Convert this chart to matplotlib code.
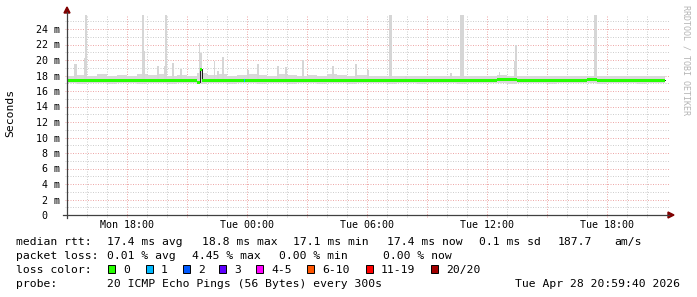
"""SmokePing style latency graph (RRDtool look) redrawn with matplotlib."""

import matplotlib

matplotlib.use("Agg")
import matplotlib.pyplot as plt
from matplotlib.lines import Line2D
from matplotlib.patches import Polygon, Rectangle

W, H = 697, 297
PX_PER_MS = 7.75

# hours are counted from Monday 00:00
X_START, X_END = 15.0, 45.0
STEP_H = 1 / 12  # one 300 s sample

MEDIAN_HOURS = [
    15.0, 15.5, 16.0, 16.5, 17.0, 17.5, 18.0, 18.5, 19.0, 19.5, 20.0, 20.5, 21.0,
    21.5, 21.67, 21.75, 22.0, 22.5, 23.0, 23.5, 24.0, 24.5, 25.0, 25.5, 26.0, 26.5,
    27.0, 27.5, 28.0, 28.5, 29.0, 29.5, 30.0, 30.5, 31.0, 31.5, 32.0, 32.5, 33.0,
    33.5, 34.0, 34.5, 35.0, 35.5, 36.0, 36.5, 37.0, 37.5, 38.0, 38.5, 39.0, 39.5,
    40.0, 40.5, 41.0, 41.5, 42.0, 42.5, 43.0, 43.5, 44.0, 44.5, 44.92,
]
MEDIAN_MS = [
    17.3, 17.4, 17.4, 17.3, 17.4, 17.4, 17.3, 17.4, 17.4, 17.3, 17.4, 17.4, 17.3,
    17.15, 18.8, 17.3, 17.3, 17.4, 17.4, 17.4, 17.4, 17.3, 17.4, 17.4, 17.4, 17.3,
    17.4, 17.4, 17.4, 17.3, 17.4, 17.4, 17.3, 17.3, 17.3, 17.4, 17.3, 17.3, 17.4,
    17.3, 17.3, 17.4, 17.4, 17.3, 17.4, 17.5, 17.5, 17.4, 17.3, 17.3, 17.4, 17.4,
    17.4, 17.4, 17.5, 17.4, 17.4, 17.4, 17.4, 17.4, 17.4, 17.4, 17.4,
]

SMOKE_HOURS = [
    15.0, 15.5, 16.0, 16.5, 17.0, 17.5, 18.0, 18.5, 19.0, 19.5, 20.0, 20.5, 21.0,
    21.5, 22.0, 22.5, 23.0, 23.5, 24.0, 24.5, 25.0, 25.5, 26.0, 26.5, 27.0, 27.5,
    28.0, 28.5, 29.0, 29.5, 30.0, 30.5, 31.0, 31.5, 32.0, 32.5, 33.0, 33.5, 34.0,
    34.5, 35.0, 35.5, 36.0, 36.5, 37.0, 37.5, 38.0, 38.5, 39.0, 39.5, 40.0, 40.5,
    41.0, 41.5, 42.0, 42.5, 43.0, 43.5, 44.0, 44.5, 44.92,
]
SMOKE_LOW_MS = [
    17.0, 16.9, 17.0, 17.0, 16.9, 17.0, 17.0, 16.9, 17.0, 17.0, 16.9, 17.0, 17.0,
    16.9, 17.0, 17.0, 16.9, 17.0, 17.0, 16.9, 17.0, 17.0, 16.9, 17.0, 17.0, 16.9,
    17.0, 17.0, 16.9, 17.0, 17.0, 17.0, 16.9, 17.0, 17.0, 16.9, 17.0, 17.0, 17.0,
    16.9, 17.0, 17.0, 17.0, 17.0, 16.9, 17.0, 17.0, 17.0, 16.9, 17.0, 17.0, 17.0,
    17.0, 16.9, 17.0, 17.0, 17.0, 16.9, 17.0, 17.0, 17.0,
]
SMOKE_HIGH_MS = [
    18.0, 18.1, 18.0, 18.2, 18.0, 18.1, 18.0, 18.2, 18.1, 18.2, 18.0, 18.1, 18.0,
    18.3, 18.1, 18.2, 18.0, 18.1, 18.2, 18.1, 18.0, 18.2, 18.1, 18.0, 18.1, 18.0,
    18.2, 18.1, 18.0, 18.1, 18.0, 17.9, 18.0, 17.9, 18.0, 17.9, 17.9, 18.0, 17.9,
    18.0, 17.9, 17.9, 18.0, 18.1, 18.0, 17.9, 17.9, 18.0, 17.9, 17.9, 18.0, 17.9,
    18.0, 17.9, 18.0, 17.9, 18.0, 17.9, 18.0, 18.0, 18.0,
]

SPIKE_HOURS = [
    15.33, 15.42, 15.83, 15.92, 18.75, 18.83, 19.5, 19.83, 19.92, 20.25, 20.67,
    21.58, 21.67, 22.33, 22.5, 22.75, 24.0, 24.5, 25.5, 25.92, 26.75, 28.25,
    29.42, 30.0, 31.08, 31.17, 31.92, 34.17, 34.67, 34.75, 36.58, 37.33, 37.42,
    41.33, 41.42, 44.83,
]
SPIKE_TOP_MS = [
    19.5, 19.5, 20.3, 26.0, 26.0, 21.2, 19.2, 19.2, 26.0, 19.6, 18.8,
    22.2, 20.9, 19.9, 18.6, 20.4, 18.7, 19.5, 19.2, 19.1, 20.0, 19.2,
    19.5, 18.7, 26.0, 26.0, 18.0, 18.3, 26.0, 26.0, 18.4, 19.9, 22.0,
    26.0, 26.0, 18.0,
]

LOSS_HOURS = [23.83]
LOSS_MEDIAN_MS = [17.4]

Y_TICKS = [0, 2, 4, 6, 8, 10, 12, 14, 16, 18, 20, 22, 24]
Y_LABELS = ["0  ", "2 m", "4 m", "6 m", "8 m", "10 m", "12 m", "14 m", "16 m",
            "18 m", "20 m", "22 m", "24 m"]
X_TICKS = [18, 24, 30, 36, 42]
X_LABELS = ["Mon 18:00", "Tue 00:00", "Tue 06:00", "Tue 12:00", "Tue 18:00"]

LOSS_NAMES = ["0", "1", "2", "3", "4-5", "6-10", "11-19", "20/20"]
LOSS_COLORS = ["#26ff00", "#00b8ff", "#0059ff", "#5e00ff", "#ff00ff",
               "#ff5500", "#ff0000", "#a10000"]

MONO = "DejaVu Sans Mono"


def fx(x):
    return x / W


def fy(y):
    return 1 - y / H


def main() -> None:
    plt.rcParams["font.family"] = MONO
    fig = plt.figure(figsize=(W / 100, H / 100), dpi=100, facecolor="white")
    ax = fig.add_axes([fx(67), fy(215), 600 / W, 200 / H])
    ax.set_xlim(X_START, X_END)
    ax.set_ylim(0, 200 / PX_PER_MS)
    for s in ax.spines.values():
        s.set_visible(False)

    # grid, slightly past the axes like rrdtool does
    ext_x = 2 / 20
    ext_y = 2 / PX_PER_MS
    for v in range(1, 26):
        major = v % 2 == 0
        ax.plot([X_START - ext_x, X_END + ext_x], [v, v], lw=0.72,
                color="#eeaaaa" if major else "#cfcfcf",
                ls=(0, (1, 1.5)), clip_on=False, zorder=1)
    for h in range(16, 45):
        major = h % 3 == 0
        ax.plot([h, h], [-ext_y, 200 / PX_PER_MS], lw=0.72,
                color="#eeaaaa" if major else "#cfcfcf",
                ls=(0, (1, 1.5)), clip_on=False, zorder=1)

    # smoke
    ax.fill_between(SMOKE_HOURS, SMOKE_LOW_MS, SMOKE_HIGH_MS, step="post",
                    color="#d9d9d9", lw=0, zorder=2)
    ax.bar(SPIKE_HOURS, [t - 17.2 for t in SPIKE_TOP_MS], bottom=17.2,
           width=STEP_H, align="edge", color="#d6d6d6", lw=0, zorder=2)

    # median line and loss coloured band
    ax.step(MEDIAN_HOURS, MEDIAN_MS, where="post", color="#202020", lw=0.72, zorder=3)
    band = 0.2
    ax.fill_between(MEDIAN_HOURS, [m - band for m in MEDIAN_MS],
                    [m + band for m in MEDIAN_MS], step="post",
                    color=LOSS_COLORS[0], lw=0, zorder=4)
    for h, m in zip(LOSS_HOURS, LOSS_MEDIAN_MS):
        ax.fill_between([h, h + STEP_H], [m - band] * 2, [m + band] * 2,
                        color=LOSS_COLORS[1], lw=0, zorder=5)

    ax.set_yticks(Y_TICKS)
    ax.set_yticklabels(Y_LABELS)
    ax.set_xticks(X_TICKS)
    ax.set_xticklabels(X_LABELS)
    ax.tick_params(axis="both", length=0, labelsize=7.2)
    ax.tick_params(axis="y", pad=5)
    ax.tick_params(axis="x", pad=3.5)

    # axes with arrows
    axis_col = "#404040"
    arrow_col = "#7f0000"
    fig.add_artist(Line2D([fx(67), fx(67)], [fy(218), fy(12)], color=axis_col, lw=0.9))
    fig.add_artist(Line2D([fx(63), fx(669)], [fy(215), fy(215)], color=axis_col, lw=0.9))
    fig.add_artist(Polygon([(fx(64), fy(13)), (fx(70), fy(13)), (fx(67), fy(7))],
                           closed=True, color=arrow_col, transform=fig.transFigure))
    fig.add_artist(Polygon([(fx(668), fy(212)), (fx(668), fy(218)), (fx(674), fy(215))],
                           closed=True, color=arrow_col, transform=fig.transFigure))

    fig.text(fx(10.5), fy(113), "Seconds", rotation=90, ha="center", va="center",
             fontsize=8.2)
    fig.text(fx(686), fy(5), "RRDTOOL / TOBI OETIKER", rotation=270, ha="center",
             va="top", fontsize=6, color="#b4b4b4")

    # legend block
    fs = 8.2
    rows = [
        (245, [(16, "median rtt:"), (107, "17.4 ms avg"), (202, "18.8 ms max"),
               (293, "17.1 ms min"), (387, "17.4 ms now"), (479, "0.1 ms sd"),
               (558, "187.7"), (614, "am/s")]),
        (259, [(16, "packet loss:"), (107, "0.01 % avg"), (192, "4.45 % max"),
               (279, "0.00 % min"), (383, "0.00 % now")]),
        (273, [(16, "loss color:")]),
        (287, [(16, "probe:"), (107, "20 ICMP Echo Pings (56 Bytes) every 300s")]),
    ]
    for base, items in rows:
        for x, s in items:
            fig.text(fx(x), fy(base), s, fontsize=fs, va="baseline", ha="left")
    fig.text(fx(680), fy(287), "Tue Apr 28 20:59:40 2026", fontsize=fs,
             va="baseline", ha="right")

    box_x = [108, 146, 183, 219, 256, 307, 366, 431]
    for bx, name, col in zip(box_x, LOSS_NAMES, LOSS_COLORS):
        fig.add_artist(Rectangle((fx(bx), fy(273)), 7 / W, 8.5 / H, facecolor=col,
                                 edgecolor="black", lw=0.7, transform=fig.transFigure))
        fig.text(fx(bx + 15), fy(273), name, fontsize=fs, va="baseline", ha="left")

    fig.savefig("out.png", dpi=100, facecolor="white")


if __name__ == "__main__":
    main()
